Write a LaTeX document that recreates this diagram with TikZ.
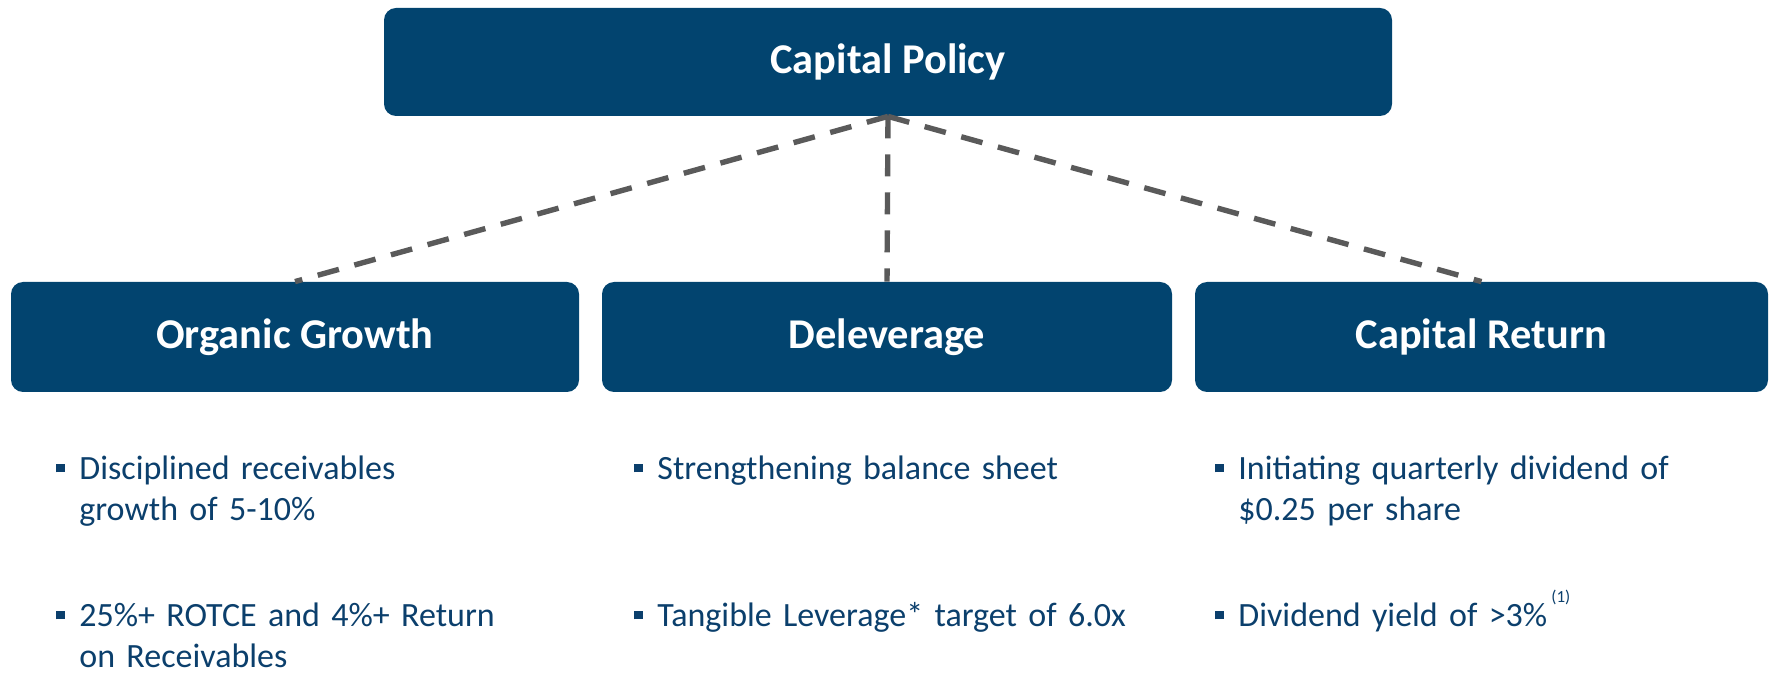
\documentclass[tikz,border=0pt]{standalone}
\usepackage{fontspec}
\setmainfont{Carlito}
\definecolor{boxblue}{HTML}{02446F}
\definecolor{txtblue}{HTML}{0B3F6C}
\definecolor{dashgray}{HTML}{5A5A5A}
\newcommand{\bul}{\makebox[0pt][r]{\textcolor{txtblue}{\rule[3.3pt]{4.3pt}{4.3pt}}\hspace{7.3pt}}}
\begin{document}
\begin{tikzpicture}[x=0.5pt,y=-0.5pt,
  box/.style={fill=boxblue, rounded corners=6pt, text=white, inner sep=0pt,
    font=\fontsize{21.2}{25}\selectfont\bfseries, minimum height=54pt},
  link/.style={draw=dashgray, line width=2.7pt, dash pattern=on 11pt off 8pt},
  item/.style={anchor=base west, text=txtblue, inner sep=0pt, align=left,
    text width=250pt, font=\fontsize{17}{20.8}\selectfont}
]
\useasboundingbox (0,0) rectangle (1771,673);
\node[box, minimum width=504pt] (cp) at (888,62) {Capital Policy};
\node[box, minimum width=284pt, minimum height=55pt] (og) at (295,337) {Organic Growth};
\node[box, minimum width=285pt, minimum height=55pt] (dl) at (887,337) {Deleverage};
\node[box, minimum width=286.5pt, minimum height=55pt] (cr) at (1481.5,337) {Capital Return};

\draw[link] (cp.south) -- (og.north);
\draw[link] (cp.south) -- (dl.north);
\draw[link] (cp.south) -- (cr.north);

\node[item] (og1) at (79,479) {\bul Disciplined receivables\\growth of 5-10\%};
\node[item] (og2) at (79,626) {\bul 25\%+ ROTCE and 4\%+ Return\\on Receivables};
\node[item] (dl1) at (657,479) {\bul Strengthening balance sheet};
\node[item] (dl2) at (657,626) {\bul Tangible Leverage* target of 6.0x};
\node[item] (cr1) at (1238,479) {\bul Initiating quarterly dividend of\\\$0.25 per share};
\node[item] (cr2) at (1238,626) {\bul Dividend yield of >3\%\hspace{2pt}\raisebox{12pt}{\fontsize{8.5}{10}\selectfont(1)}};
\end{tikzpicture}
\end{document}
